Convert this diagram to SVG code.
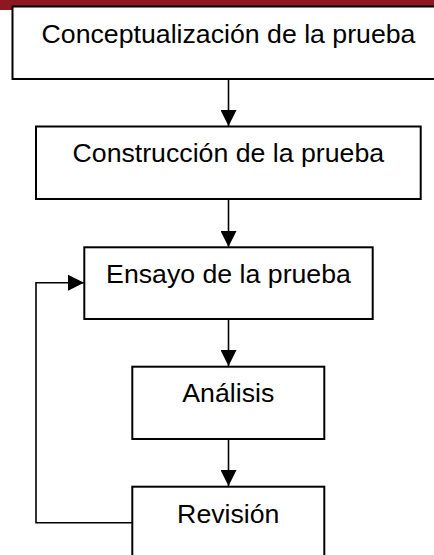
<svg xmlns="http://www.w3.org/2000/svg" width="434" height="555" viewBox="0 0 434 555">
<defs>
<style>
.box{fill:#fff;stroke:#000;stroke-width:2}
.lbl{font-family:"Liberation Sans",Arial,sans-serif;font-size:26.7px;fill:#000;text-anchor:middle}
.con{fill:none;stroke:#000;stroke-width:1.6}
</style>
<marker id="ah" viewBox="0 0 16 16" refX="16" refY="8" markerWidth="16" markerHeight="16" markerUnits="userSpaceOnUse" orient="auto">
<path d="M0,0 L16,8 L0,16 Z" fill="#000"/>
</marker>
</defs>
<rect x="0" y="0" width="434" height="10" fill="#8E1822"/>
<g id="connectors">
<line class="con" x1="228.5" y1="79" x2="228.5" y2="126" marker-end="url(#ah)"/>
<line class="con" x1="228.5" y1="199" x2="228.5" y2="247" marker-end="url(#ah)"/>
<line class="con" x1="228.5" y1="319" x2="228.5" y2="366" marker-end="url(#ah)"/>
<line class="con" x1="228.5" y1="439" x2="228.5" y2="486" marker-end="url(#ah)"/>
<polyline class="con" points="132,522.7 36,522.7 36,282.7 84,282.7" marker-end="url(#ah)"/>
</g>
<g id="n1">
<rect class="box" x="12.5" y="6.5" width="440" height="72.5"/>
<text class="lbl" x="228.5" y="43.3">Conceptualización de la prueba</text>
</g>
<g id="n2">
<rect class="box" x="36" y="126.5" width="384.7" height="72.5"/>
<text class="lbl" x="228.3" y="161.7">Construcción de la prueba</text>
</g>
<g id="n3">
<rect class="box" x="84.3" y="247.3" width="288.4" height="71.7"/>
<text class="lbl" x="228.5" y="282.7">Ensayo de la prueba</text>
</g>
<g id="n4">
<rect class="box" x="132.3" y="366.7" width="192" height="72.3"/>
<text class="lbl" x="228.3" y="402.3">Análisis</text>
</g>
<g id="n5">
<rect class="box" x="132.3" y="486.7" width="192" height="80"/>
<text class="lbl" x="228.3" y="522.7">Revisión</text>
</g>
</svg>
